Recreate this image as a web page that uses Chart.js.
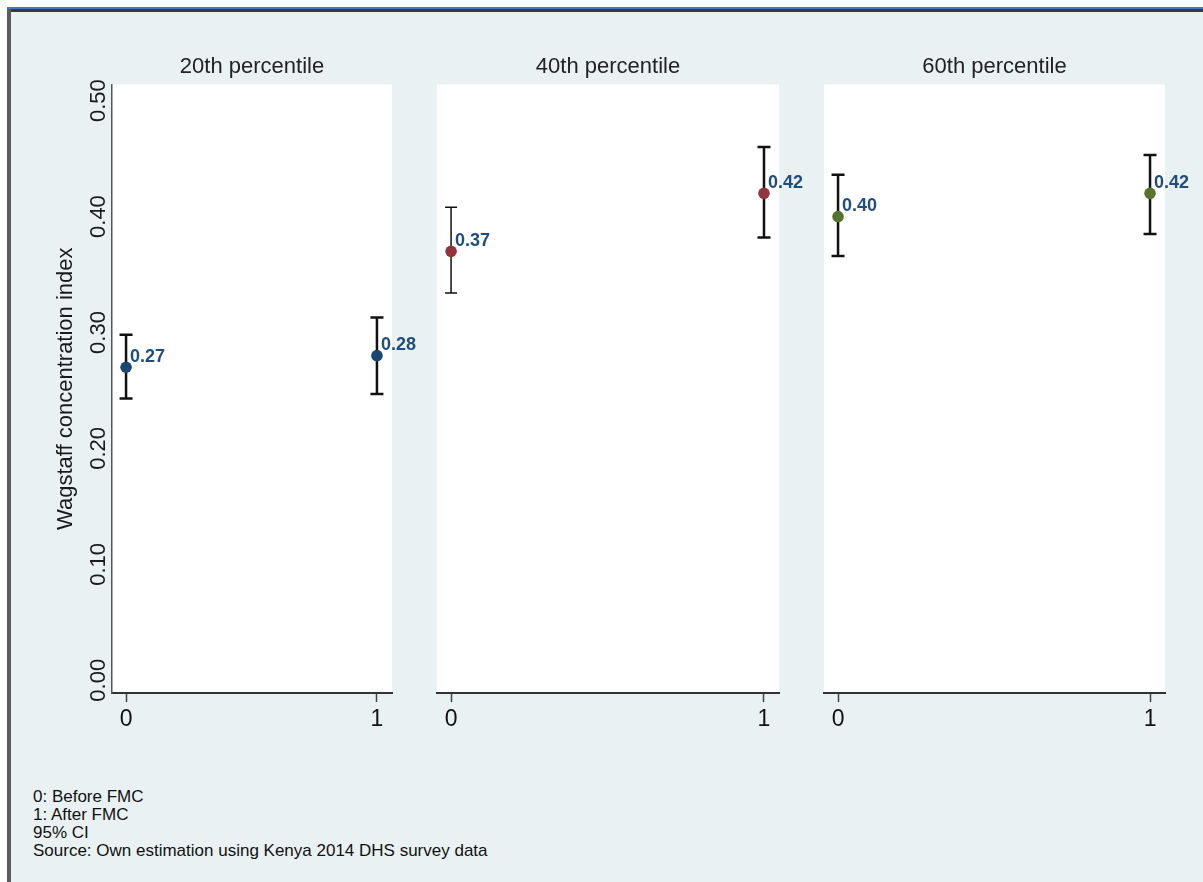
<!DOCTYPE html>
<html>
<head>
<meta charset="utf-8">
<title>Wagstaff concentration index by percentile</title>
<script src="https://cdn.jsdelivr.net/npm/chart.js@4.4.1/dist/chart.umd.min.js"></script>
<style>
  html, body { margin: 0; padding: 0; background: #ffffff; }
  body { width: 1203px; height: 882px; position: relative; overflow: hidden;
         font-family: "Liberation Sans", Arial, sans-serif; }
  #frame { position: absolute; left: 7px; top: 7px; right: 0; bottom: 0;
           background: #E9F1F3; border-top: 2px solid #3a7cbf; }
  #frame::before { content: ""; position: absolute; left: 0; right: 0; top: 0; height: 3px; background: #343a42; }
  #frame::after { content: ""; position: absolute; left: 0; top: 0; bottom: 0; width: 4px; background: #5c5c5c; }
  canvas { position: absolute; top: 0; }
  #notes { position: absolute; left: 33px; top: 788px; font-size: 17px; line-height: 18px; color: #111; }
</style>
</head>
<body>
<div id="frame"></div>
<canvas id="p20" width="420" height="743" style="left:0px"></canvas>
<canvas id="p40" width="390" height="743" style="left:420px"></canvas>
<canvas id="p60" width="393" height="743" style="left:810px"></canvas>
<div id="notes"></div>

<script>
// ---- data ----
const panelTitles = ['20th percentile', '40th percentile', '60th percentile'];
const periods = [0, 1];
const periodLabels = ['0', '1'];

const estimate20 = [0.27, 0.28];
const lower20    = [0.243, 0.247];
const upper20    = [0.298, 0.313];

const estimate40 = [0.37, 0.42];
const lower40    = [0.334, 0.382];
const upper40    = [0.408, 0.460];

const estimate60 = [0.40, 0.42];
const lower60    = [0.366, 0.385];
const upper60    = [0.436, 0.453];

const yTicks = [0, 0.1, 0.2, 0.3, 0.4, 0.5];
const yTickLabels = ['0.00', '0.10', '0.20', '0.30', '0.40', '0.50'];

const yAxisTitle = 'Wagstaff concentration index';
const notes = ['0: Before FMC', '1: After FMC', '95% CI', 'Source: Own estimation using Kenya 2014 DHS survey data'];

// ---- drawing helpers ----
const FONT = '"Liberation Sans", Arial, sans-serif';

document.getElementById('notes').innerHTML = notes.map(n => '<div>' + n + '</div>').join('');

// white plot region behind each panel
const plotBackground = {
  id: 'plotBackground',
  beforeDraw(chart) {
    const { ctx, chartArea: a } = chart;
    ctx.save();
    ctx.fillStyle = '#ffffff';
    ctx.fillRect(a.left, a.top, a.right - a.left, a.bottom - a.top);
    ctx.restore();
  }
};

// capped confidence-interval spikes, drawn under the markers
const errorBars = {
  id: 'errorBars',
  beforeDatasetsDraw(chart, args, opts) {
    const { ctx, scales: { x, y } } = chart;
    ctx.save();
    ctx.strokeStyle = '#111111';
    chart.data.datasets.forEach(ds => {
      ds.data.forEach((p, i) => {
        const px = x.getPixelForValue(p.x);
        const top = y.getPixelForValue(p.hi);
        const bot = y.getPixelForValue(p.lo);
        const w = opts.widths[i];
        const cap = opts.caps[i];
        ctx.lineWidth = w;
        ctx.beginPath();
        ctx.moveTo(px, top); ctx.lineTo(px, bot);
        ctx.moveTo(px - cap, top); ctx.lineTo(px + cap, top);
        ctx.moveTo(px - cap, bot); ctx.lineTo(px + cap, bot);
        ctx.stroke();
      });
    });
    ctx.restore();
  }
};

// value labels at the upper right of each marker
const valueLabels = {
  id: 'valueLabels',
  afterDatasetsDraw(chart) {
    const { ctx, scales: { x, y } } = chart;
    ctx.save();
    ctx.font = 'bold 18px ' + FONT;
    ctx.fillStyle = '#1f4d7c';
    ctx.textAlign = 'left';
    ctx.textBaseline = 'alphabetic';
    chart.data.datasets.forEach(ds => {
      ds.data.forEach(p => {
        ctx.fillText(p.y.toFixed(2), x.getPixelForValue(p.x) + 4, y.getPixelForValue(p.y) - 5.5);
      });
    });
    ctx.restore();
  }
};

// vertical tick labels on the shared y axis
const rotatedYTicks = {
  id: 'rotatedYTicks',
  afterDraw(chart, args, opts) {
    if (!opts.show) return;
    const { ctx, scales: { y } } = chart;
    ctx.save();
    ctx.font = '22px ' + FONT;
    ctx.fillStyle = '#1a1a1a';
    ctx.textAlign = 'center';
    ctx.textBaseline = 'alphabetic';
    y.ticks.forEach(t => {
      const idx = yTicks.indexOf(t.value);
      ctx.save();
      ctx.translate(opts.baselineX, y.getPixelForValue(t.value));
      ctx.rotate(-Math.PI / 2);
      ctx.fillText(yTickLabels[idx], 0, 0);
      ctx.restore();
    });
    ctx.restore();
  }
};

function makePanel(id, title, est, lo, hi, colour, opts) {
  const points = periods.map((p, i) => ({ x: p, y: est[i], lo: lo[i], hi: hi[i] }));
  return new Chart(document.getElementById(id), {
    type: 'scatter',
    data: {
      datasets: [{
        data: points,
        pointRadius: 5.8,
        pointBorderWidth: 0,
        backgroundColor: colour,
        borderColor: colour,
        showLine: false
      }]
    },
    plugins: [plotBackground, errorBars, valueLabels, rotatedYTicks],
    options: {
      responsive: false,
      animation: false,
      devicePixelRatio: 1,
      events: [],
      layout: { padding: opts.padding },
      plugins: {
        legend: { display: false },
        tooltip: { enabled: false },
        title: {
          display: true, text: title, fullSize: false, color: '#222222',
          font: { family: FONT, size: 22, weight: 'normal' },
          padding: { top: 54, bottom: 4 }
        },
        errorBars: { widths: opts.barWidths, caps: opts.capHalf },
        rotatedYTicks: { show: opts.showY, baselineX: 104.5 }
      },
      scales: {
        x: {
          type: 'linear',
          min: opts.xMin, max: opts.xMax,
          afterBuildTicks: s => { s.ticks = periods.map(v => ({ value: v })); },
          afterFit: s => { s.height = 50; },
          ticks: {
            autoSkip: false, maxRotation: 0, padding: 4, color: '#111111',
            font: { family: FONT, size: 23 },
            callback: v => periodLabels[periods.indexOf(v)]
          },
          grid: { drawOnChartArea: false, drawTicks: true, tickLength: 9, tickColor: '#444444', tickWidth: 1.5 },
          border: { display: true, color: '#333333', width: 2 }
        },
        y: {
          type: 'linear',
          min: -0.011, max: 0.514,
          display: opts.showY,
          afterBuildTicks: s => { s.ticks = yTicks.map(v => ({ value: v })); },
          afterFit: s => { s.width = opts.showY ? 112 : 0; },
          ticks: { display: false },
          grid: { display: false },
          border: { display: true, color: '#555555', width: 1.5 },
          title: {
            display: true, text: yAxisTitle, color: '#1a1a1a',
            font: { family: FONT, size: 22 },
            padding: { top: 53, bottom: 0 }
          }
        }
      }
    }
  });
}

makePanel('p20', panelTitles[0], estimate20, lower20, upper20, '#1a476f', {
  showY: true, padding: { left: 0, right: 28, top: 0, bottom: 0 },
  xMin: -0.056, xMax: 1.06, barWidths: [2.5, 2.5], capHalf: [6.5, 6.5]
});
makePanel('p40', panelTitles[1], estimate40, lower40, upper40, '#90353b', {
  showY: false, padding: { left: 17, right: 31, top: 0, bottom: 0 },
  xMin: -0.045, xMax: 1.048, barWidths: [1.5, 2.5], capHalf: [6, 6.5]
});
makePanel('p60', panelTitles[2], estimate60, lower60, upper60, '#55752f', {
  showY: false, padding: { left: 14, right: 38, top: 0, bottom: 0 },
  xMin: -0.045, xMax: 1.048, barWidths: [2.5, 2.5], capHalf: [6.5, 6.5]
});
</script>
</body>
</html>
